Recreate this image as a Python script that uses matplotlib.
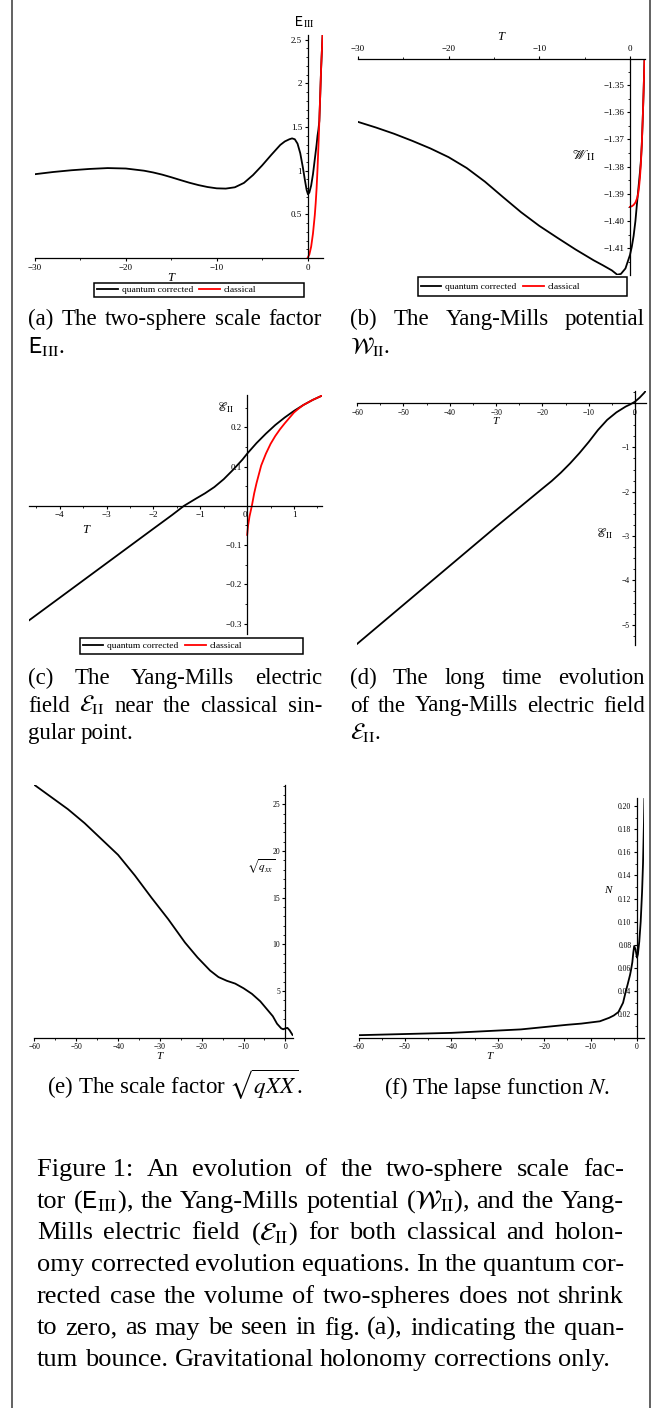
import matplotlib
matplotlib.use("Agg")
import matplotlib.pyplot as plt
from matplotlib.lines import Line2D
from matplotlib.patches import Rectangle
from matplotlib.ticker import MultipleLocator

plt.rcParams["font.family"] = ["Liberation Serif", "DejaVu Serif"]
plt.rcParams["mathtext.fontset"] = "stix"

W, H = 672, 1408

# ---- values ------------------------------------------------------------
# (a) two-sphere scale factor E_III
a_T_q = [-30, -28, -26, -24, -22, -20, -18, -17, -16, -15, -14, -13, -12, -11, -10,
         -9, -8, -7, -6, -5, -4, -3, -2.5, -2, -1.7, -1.4, -1.1, -0.8, -0.5, -0.3,
         -0.1, 0.05, 0.2, 0.4, 0.6, 0.8, 1.0, 1.1, 1.2, 1.3, 1.4, 1.5, 1.6, 1.66]
a_E_q = [0.96, 0.985, 1.005, 1.02, 1.03, 1.025, 1.0, 0.98, 0.955, 0.925, 0.893, 0.862,
         0.835, 0.813, 0.798, 0.795, 0.81, 0.86, 0.95, 1.06, 1.18, 1.295, 1.335, 1.36,
         1.37, 1.36, 1.31, 1.20, 1.03, 0.90, 0.78, 0.73, 0.75, 0.83, 0.96, 1.13, 1.30,
         1.40, 1.47, 1.57, 1.87, 2.18, 2.42, 2.56]
a_T_c = [0, 0.2, 0.4, 0.6, 0.8, 0.9, 1.0, 1.1, 1.2, 1.3, 1.4, 1.5, 1.6, 1.66]
a_E_c = [0, 0.04, 0.13, 0.28, 0.49, 0.63, 0.80, 1.02, 1.28, 1.57, 1.87, 2.18, 2.42, 2.56]

# (b) Yang-Mills potential W_II
b_T_q = [-30, -28, -26, -24, -22, -20, -18, -16, -14, -12, -10, -8, -6, -4, -3, -2,
         -1.4, -1, -0.5, 0, 0.2, 0.4, 0.6, 0.8, 1.0, 1.1, 1.2, 1.3, 1.4, 1.5, 1.6]
b_W_q = [-1.3635, -1.3656, -1.3679, -1.3705, -1.3733, -1.3765, -1.3805, -1.3855,
         -1.3912, -1.3968, -1.4018, -1.4062, -1.4105, -1.4145, -1.4163, -1.4182,
         -1.4198, -1.4195, -1.4175, -1.4125, -1.4095, -1.4055, -1.4000, -1.3925,
         -1.3855, -1.3820, -1.3780, -1.3720, -1.3630, -1.3525, -1.3405]
b_T_c = [0, 0.2, 0.4, 0.6, 0.8, 0.9, 1.0, 1.1, 1.2, 1.3, 1.4, 1.5, 1.6]
b_W_c = [-1.3948, -1.3946, -1.3941, -1.3932, -1.3915, -1.3900, -1.3875, -1.3840,
         -1.3790, -1.3720, -1.3630, -1.3525, -1.3405]

# (c) electric field E_II near the classical singular point
c_T_q = [-4.66, -4.0, -3.5, -3.0, -2.5, -2.0, -1.6, -1.35, -1.1, -0.9, -0.7, -0.5,
         -0.3, -0.1, 0, 0.2, 0.4, 0.6, 0.8, 1.0, 1.2, 1.4, 1.6]
c_E_q = [-0.292, -0.234, -0.190, -0.146, -0.102, -0.058, -0.023, 0.0, 0.018, 0.032,
         0.048, 0.068, 0.092, 0.118, 0.133, 0.160, 0.184, 0.206, 0.225, 0.242, 0.257,
         0.270, 0.281]
c_T_c = [0, 0.02, 0.05, 0.1, 0.15, 0.2, 0.3, 0.4, 0.5, 0.6, 0.7, 0.8, 0.9, 1.0, 1.1,
         1.2, 1.4, 1.6]
c_E_c = [-0.074, -0.050, -0.027, 0.0, 0.032, 0.058, 0.103, 0.133, 0.158, 0.178, 0.195,
         0.210, 0.224, 0.238, 0.248, 0.257, 0.270, 0.281]

# (d) long time evolution of E_II
d_T = [-60, -55, -50, -45, -40, -35, -30, -25, -20, -18, -16, -14, -12, -10, -8, -6,
       -4, -2, -1, 0, 1, 2, 2.3]
d_E = [-5.43, -4.99, -4.55, -4.11, -3.67, -3.23, -2.79, -2.36, -1.93, -1.76, -1.57,
       -1.36, -1.13, -0.88, -0.61, -0.38, -0.21, -0.08, -0.03, 0.03, 0.12, 0.23, 0.27]

# (e) scale factor sqrt(q_xx)
e_T = [-60, -56, -52, -48, -44, -40, -36, -32, -28, -24, -21, -18, -16, -14, -12, -10,
       -8, -6, -4.5, -3, -2, -1, -0.5, 0, 0.5, 1, 1.7]
e_q = [27.1, 25.8, 24.5, 23.0, 21.3, 19.6, 17.4, 15.0, 12.7, 10.2, 8.6, 7.2, 6.5, 6.1,
       5.8, 5.3, 4.7, 3.9, 3.1, 2.3, 1.5, 1.0, 0.9, 1.0, 1.05, 0.8, 0.3]

# (f) lapse function N
f_T = [-60, -50, -40, -35, -30, -25, -20, -15, -12, -10, -8, -6, -5, -4, -3, -2.4, -2,
       -1.5, -1.3, -1, -0.8, -0.6, -0.3, 0, 0.2, 0.5, 0.8, 1.1, 1.3, 1.5, 1.6]
f_N = [0.002, 0.003, 0.004, 0.005, 0.006, 0.007, 0.009, 0.011, 0.012, 0.013, 0.014,
       0.017, 0.019, 0.022, 0.030, 0.040, 0.046, 0.054, 0.058, 0.065, 0.073, 0.079,
       0.076, 0.069, 0.072, 0.083, 0.100, 0.126, 0.150, 0.185, 0.206]

legend_labels = ["quantum corrected", "classical"]

fig = plt.figure(figsize=(W / 100, H / 100), dpi=100)


def fx(x):
    return x / W


def fy(y):
    return 1 - y / H


def px_axes(x0, y0, x1, y1):
    return fig.add_axes([fx(x0), fy(y1), (x1 - x0) / W, (y1 - y0) / H])


def minus(v, fmt):
    return (fmt % v).replace("-", "\u2212")


def maple(ax, xlim, ylim, xt, yt, xminor, yminor, xfmt, yfmt, size, xtop=False):
    """Maple-style axes: thin spines crossing at the origin, small ticks."""
    ax.set_xlim(*xlim)
    ax.set_ylim(*ylim)
    ax.patch.set_visible(False)
    for s in ax.spines.values():
        s.set_visible(False)
        s.set_linewidth(0.9)
    ax.spines["left"].set_visible(True)
    ax.spines["left"].set_position(("data", 0))
    if xtop:
        ax.spines["top"].set_visible(True)
        ax.xaxis.tick_top()
    else:
        ax.spines["bottom"].set_visible(True)
        ax.spines["bottom"].set_position(("data", 0))
    ax.set_xticks(xt, [minus(v, xfmt) for v in xt])
    ax.set_yticks(yt, [minus(v, yfmt) for v in yt])
    ax.xaxis.set_minor_locator(MultipleLocator(xminor))
    ax.yaxis.set_minor_locator(MultipleLocator(yminor))
    ax.tick_params(which="major", length=2.5, width=0.8, labelsize=size, pad=1.5)
    ax.tick_params(which="minor", length=1.3, width=0.6)


def legend_box(ax, lines, x0, y0, x1, y1):
    fig.add_artist(Rectangle((fx(x0), fy(y1)), (x1 - x0) / W, (y1 - y0) / H,
                             transform=fig.transFigure, fill=False, lw=1.1,
                             edgecolor="black"))
    ax.legend(lines, legend_labels, loc="center left",
              bbox_to_anchor=(fx(x0 + 3), fy((y0 + y1) / 2)),
              bbox_transform=fig.transFigure, ncol=2, frameon=False, fontsize=6.8,
              handlelength=2.2, handletextpad=0.4, columnspacing=0.7,
              borderpad=0, borderaxespad=0)


def label(x, y, s, size, **kw):
    fig.text(fx(x), fy(y), s, fontsize=size, ha="center", va="center", **kw)


# ---- (a) ------------------------------------------------------------------
ax = px_axes(35, 34.5, 322.6, 258)
q, = ax.plot(a_T_q, a_E_q, color="black", lw=1.3)
c, = ax.plot(a_T_c, a_E_c, color="red", lw=1.3)
maple(ax, (-30, 1.66), (0, 2.56), [-30, -20, -10, 0], [0.5, 1, 1.5, 2, 2.5],
      5, 0.1, "%g", "%g", 6.5)
legend_box(ax, [q, c], 94, 283, 304, 297)
label(305, 22, r"$\mathrm{\mathsf{E}}_{\,\mathrm{III}}$", 10)
label(171, 278, "T", 9, style="italic")

# ---- (b) ------------------------------------------------------------------
ax = px_axes(357.8, 58.8, 644.5, 275)
q, = ax.plot(b_T_q, b_W_q, color="black", lw=1.3)
c, = ax.plot(b_T_c, b_W_c, color="red", lw=1.3)
maple(ax, (-30, 1.6), (-1.4199, -1.3403), [-30, -20, -10, 0],
      [-1.35, -1.36, -1.37, -1.38, -1.39, -1.40, -1.41], 5, 0.005, "%g", "%.2f", 6.5,
      xtop=True)
legend_box(ax, [q, c], 417.6, 277, 626.7, 296)
label(584, 156, r"$\mathscr{W}_{\rm II}$", 10)
label(500.6, 37, "T", 9, style="italic")

# ---- (c) ------------------------------------------------------------------
ax = px_axes(28.9, 395.2, 322.1, 633.8)
q, = ax.plot(c_T_q, c_E_q, color="black", lw=1.3)
c, = ax.plot(c_T_c, c_E_c, color="red", lw=1.3)
maple(ax, (-4.66, 1.6), (-0.326, 0.282), [-4, -3, -2, -1, 0, 1],
      [-0.3, -0.2, -0.1, 0.1, 0.2], 0.5, 0.05, "%g", "%g", 6.5)
ax.get_xticklabels()[4].set_ha("right")
legend_box(ax, [q, c], 79.6, 638, 303.4, 654)
label(226, 407, r"$\mathscr{E}_{\rm II}$", 9)
label(85.7, 529.7, "T", 9, style="italic")

# ---- (d) ------------------------------------------------------------------
ax = px_axes(357.2, 390.6, 645.6, 644.7)
ax.plot(d_T, d_E, color="black", lw=1.3)
maple(ax, (-60, 2.3), (-5.45, 0.28), [-60, -50, -40, -30, -20, -10, 0],
      [-1, -2, -3, -4, -5], 5, 0.25, "%g", "%g", 5.5)
label(605, 533, r"$\mathscr{E}_{\rm II}$", 9)
label(495.6, 421, "T", 8, style="italic")

# ---- (e) ------------------------------------------------------------------
ax = px_axes(34.4, 784.9, 292.5, 1037.7)
ax.plot(e_T, e_q, color="black", lw=1.3)
maple(ax, (-60, 1.7), (0, 27.1), [-60, -50, -40, -30, -20, -10, 0],
      [5, 10, 15, 20, 25], 5, 1, "%g", "%g", 5.5)
label(261, 866.7, r"$\sqrt{q_{xx}}$", 8)
label(159.3, 1056.7, "T", 8, style="italic")

# ---- (f) ------------------------------------------------------------------
ax = px_axes(358.6, 798.3, 644.4, 1037.5)
ax.plot(f_T, f_N, color="black", lw=1.3)
maple(ax, (-60, 1.6), (0, 0.2066), [-60, -50, -40, -30, -20, -10, 0],
      [0.02, 0.04, 0.06, 0.08, 0.10, 0.12, 0.14, 0.16, 0.18, 0.20], 5, 0.01,
      "%g", "%.2f", 5.5)
label(608, 890.7, "N", 8, style="italic")
label(489.5, 1056.7, "T", 8, style="italic")

# ---- page frame ------------------------------------------------------------
for xf in (12, 650):
    fig.add_artist(Line2D([fx(xf), fx(xf)], [0, 1], transform=fig.transFigure,
                          color="#555555", lw=1.3))

# ---- captions (justified like LaTeX) ----------------------------------------
renderer = fig.canvas.get_renderer()


def paragraph(lines, x0, x1, y0, dy, size):
    for i, words in enumerate(lines):
        texts = [fig.text(0, fy(y0 + i * dy), w, fontsize=size, va="baseline")
                 for w in words]
        widths = [t.get_window_extent(renderer).width for t in texts]
        space = 0.25 * size * 100 / 72
        if i < len(lines) - 1 and len(words) > 1:
            space = (x1 - x0 - sum(widths)) / (len(words) - 1)
        x = x0
        for t, w in zip(texts, widths):
            t.set_x(fx(x))
            x += w + space


E3 = r"$\mathrm{\mathsf{E}}_{\rm III}$"
W2 = r"$\mathcal{W}_{\rm II}$"
E2 = r"$\mathcal{E}_{\rm II}$"
sub = 16.5
paragraph([["(a)", "The", "two-sphere", "scale", "factor"], [E3 + "."]],
          28, 322, 325, 27.5, sub)
paragraph([["(b)", "The", "Yang-Mills", "potential"], [W2 + "."]],
          350, 645, 325, 27.5, sub)
paragraph([["(c)", "The", "Yang-Mills", "electric"],
           ["field", E2, "near", "the", "classical", "sin-"],
           ["gular", "point."]], 28, 322, 684, 27.5, sub)
paragraph([["(d)", "The", "long", "time", "evolution"],
           ["of", "the", "Yang-Mills", "electric", "field"],
           [E2 + "."]], 350, 645, 684, 27.5, sub)
fig.text(fx(175), fy(1094), r"(e) The scale factor $\sqrt{qXX}$.", fontsize=sub,
         ha="center", va="baseline")
fig.text(fx(497.5), fy(1094), r"(f) The lapse function $N$.", fontsize=sub,
         ha="center", va="baseline")

paragraph([["Figure 1:", "An", "evolution", "of", "the", "two-sphere", "scale", "fac-"],
           ["tor", "(" + E3 + "),", "the", "Yang-Mills", "potential", "(" + W2 + "),",
            "and", "the", "Yang-"],
           ["Mills", "electric", "field", "(" + E2 + ")", "for", "both", "classical",
            "and", "holon-"],
           ["omy", "corrected", "evolution", "equations.", "In", "the", "quantum", "cor-"],
           ["rected", "case", "the", "volume", "of", "two-spheres", "does", "not", "shrink"],
           ["to", "zero,", "as", "may", "be", "seen", "in", "fig.", "(a),", "indicating",
            "the", "quan-"],
           ["tum", "bounce.", "Gravitational", "holonomy", "corrections", "only."]],
          37, 624, 1176, 31.7, 19)

fig.savefig("out.png", dpi=100)
